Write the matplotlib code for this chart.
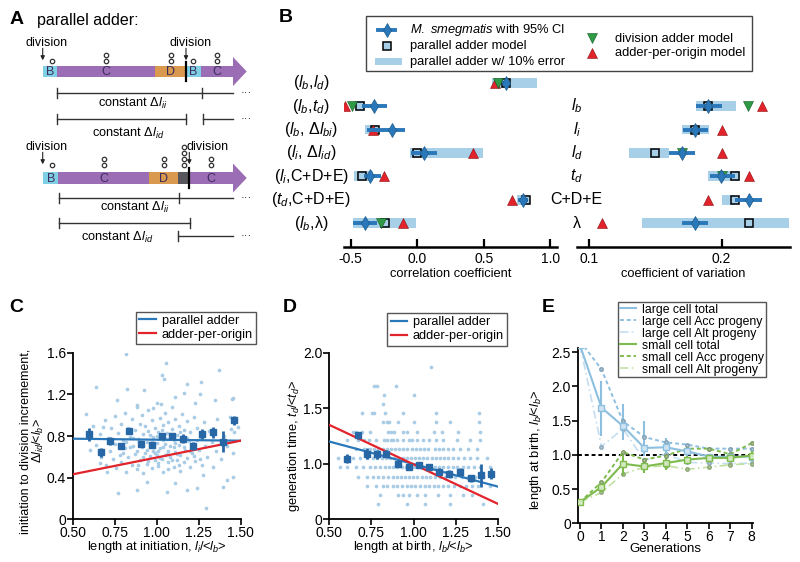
import numpy as np
import matplotlib
matplotlib.use('Agg')
import matplotlib.pyplot as plt
from matplotlib.patches import Rectangle, Polygon

plt.rcParams['font.family'] = 'Liberation Sans'
plt.rcParams['mathtext.fontset'] = 'custom'
plt.rcParams['mathtext.rm'] = 'Liberation Sans'
plt.rcParams['mathtext.it'] = 'Liberation Sans:italic'
plt.rcParams['mathtext.bf'] = 'Liberation Sans:bold'

# colours
BLUE = '#2a78b9'
LIGHT = '#a8cfe8'
DOT = '#a9cce6'
SQ = '#2767a6'
RED = '#e3232b'
GREEN = '#2f9a46'
LG_BLUE = '#8dc0e0'
LG_BLUE2 = '#c4def0'
SM_GREEN = '#7dbb4c'
SM_GREEN2 = '#c3e0a3'

# ---------------- panel A schematic ----------------
top_edges = [43.3, 56.7, 155, 186, 200.7, 233]
top_phases = ['B', 'C', 'D', 'B', 'C']
top_origins = [1, 2, 2, 1, 2]
bot_edges = [43.3, 58.3, 149, 178.3, 189.3, 233]
bot_phases = ['B', 'C', 'D', 'E', 'C']
bot_origins = [1, 2, 2, 4, 2]
phase_colors = {'B': '#7fd0e4', 'C': '#9b6db5', 'D': '#d9994f', 'E': '#56565c'}

# ---------------- panel B ----------------
rows_left = [r'($l_b$,$l_d$)', r'($l_b$,$t_d$)', r'($l_b$, Δ$l_{bi}$)', r'($l_i$, Δ$l_{id}$)',
             r'($l_i$,C+D+E)', r'($t_d$,C+D+E)', r'($l_b$,λ)']
rows_right = ['', r'$l_b$', r'$l_i$', r'$l_d$', r'$t_d$', 'C+D+E', 'λ']

cc_data = [0.665, -0.323, -0.193, 0.050, -0.356, 0.792, -0.393]
cc_lo = [0.640, -0.418, -0.380, -0.050, -0.398, 0.759, -0.486]
cc_hi = [0.700, -0.230, -0.092, 0.150, -0.273, 0.835, -0.303]
cc_par = [0.665, -0.431, -0.318, -0.005, -0.413, 0.815, -0.243]
cc_par_lo = [0.559, -0.468, -0.393, -0.055, -0.476, 0.752, -0.486]
cc_par_hi = [0.898, -0.393, -0.286, 0.496, -0.335, 0.842, -0.010]
cc_div = [0.604, -0.493, np.nan, np.nan, np.nan, np.nan, -0.275]
cc_apo = [0.587, -0.544, -0.335, 0.416, -0.250, 0.710, -0.110]

cv_data = [np.nan, 0.190, 0.180, 0.170, 0.1997, 0.2203, 0.180]
cv_lo = [np.nan, 0.181, 0.171, 0.160, 0.191, 0.210, 0.170]
cv_hi = [np.nan, 0.200, 0.190, 0.180, 0.210, 0.2306, 0.190]
cv_par = [np.nan, 0.190, 0.180, 0.150, 0.210, 0.210, 0.2203]
cv_par_lo = [np.nan, 0.1804, 0.1703, 0.130, 0.190, 0.200, 0.140]
cv_par_hi = [np.nan, 0.2105, 0.1904, 0.160, 0.2138, 0.210, 0.2507]
cv_div = [np.nan, 0.220, np.nan, 0.170, 0.200, np.nan, np.nan]
cv_apo = [np.nan, 0.2306, 0.200, 0.200, 0.2203, 0.190, 0.1096]

# ---------------- panel C ----------------
c_x = [0.62, 0.64, 0.66, 0.67, 0.69, 0.70, 0.71, 0.72, 0.73, 0.74, 0.75, 0.75, 0.76, 0.77, 0.78,
       0.79, 0.79, 0.80, 0.81, 0.81, 0.82, 0.83, 0.83, 0.84, 0.85, 0.85, 0.86, 0.87, 0.87, 0.88,
       0.88, 0.89, 0.90, 0.90, 0.91, 0.91, 0.92, 0.92, 0.93, 0.93, 0.94, 0.94, 0.95, 0.95, 0.96,
       0.96, 0.97, 0.97, 0.98, 0.98, 0.99, 0.99, 1.00, 1.00, 1.00, 1.01, 1.01, 1.02, 1.02, 1.03,
       1.03, 1.04, 1.04, 1.05, 1.05, 1.06, 1.06, 1.07, 1.07, 1.08, 1.08, 1.09, 1.09, 1.10, 1.10,
       1.11, 1.11, 1.12, 1.12, 1.13, 1.13, 1.14, 1.14, 1.15, 1.15, 1.16, 1.16, 1.17, 1.18, 1.18,
       1.19, 1.20, 1.20, 1.21, 1.22, 1.22, 1.23, 1.24, 1.25, 1.26, 1.27, 1.28, 1.29, 1.30, 1.31,
       1.33, 1.35, 1.36, 1.38, 1.40, 1.42, 1.44, 1.46,
       0.97, 0.98, 1.00, 1.01, 1.02, 1.03, 1.04, 1.05, 1.06, 1.07, 1.08, 1.09, 1.10, 1.11, 1.12,
       1.04, 0.99, 0.96, 0.94, 0.92, 0.90, 0.88, 0.86, 0.84, 0.82, 0.80, 0.78, 1.14, 1.16, 1.18,
       1.20, 1.22, 1.24, 1.26, 1.28, 0.95, 1.01, 1.07, 0.89, 1.13,
       0.815, 0.579, 0.639, 0.821, 1.054, 1.034, 1.044, 1.183, 1.262, 1.371, 1.258, 1.163, 0.925,
       1.109, 1.228, 1.345, 1.456, 0.980, 0.881, 0.762, 1.024, 0.772, 0.881, 1.060, 1.179, 1.242,
       1.292, 1.397, 1.417, 1.456, 0.944, 1.109, 0.702, 0.663, 0.603, 0.593, 0.683, 1.278, 1.337,
       1.456, 1.482, 1.437, 1.446]
c_y = [0.90, 0.71, 0.82, 0.60, 0.95, 0.52, 0.78, 0.66, 0.88, 0.58, 0.99, 0.72, 0.49, 0.83, 0.62,
       0.92, 0.55, 0.76, 1.02, 0.68, 0.45, 0.88, 0.60, 0.79, 0.96, 0.52, 0.70, 0.86, 0.63, 1.08,
       0.48, 0.77, 0.92, 0.57, 0.69, 1.00, 0.82, 0.44, 0.64, 0.90, 0.74, 0.53, 1.05, 0.85, 0.61,
       0.70, 0.95, 0.49, 0.79, 0.66, 0.88, 0.57, 1.12, 0.73, 0.62, 0.84, 0.51, 0.97, 0.68, 0.78,
       0.58, 0.91, 0.45, 0.72, 1.02, 0.63, 0.83, 0.55, 0.93, 0.70, 0.60, 0.87, 1.08, 0.76, 0.50,
       0.65, 0.96, 0.81, 0.57, 0.71, 0.90, 0.46, 0.62, 1.01, 0.77, 0.55, 0.86, 0.67, 0.94, 0.59,
       0.75, 0.50, 0.84, 0.64, 0.98, 0.72, 0.56, 0.88, 0.67, 0.79, 0.52, 0.93, 0.70, 0.60, 0.85,
       0.74, 0.66, 0.96, 0.58, 0.80, 0.70, 0.87, 0.84,
       0.74, 0.71, 0.80, 0.66, 0.59, 0.86, 0.69, 0.62, 0.77, 0.66, 0.82, 0.57, 0.69, 0.73, 0.63,
       0.76, 0.64, 0.81, 0.67, 0.60, 0.75, 0.66, 0.78, 0.69, 0.74, 0.64, 0.71, 0.84, 0.69, 0.78,
       0.66, 0.61, 0.76, 0.58, 0.82, 0.56, 0.54, 0.48, 0.52, 0.52,
       1.587, 1.011, 1.274, 1.254, 1.504, 1.386, 1.344, 1.299, 1.322, 1.434, 1.203, 1.210, 1.242,
       1.171, 1.120, 1.146, 1.162, 1.066, 1.098, 1.146, 1.104, 0.250, 0.282, 0.266, 0.282, 0.304,
       0.106, 0.314, 0.378, 0.410, 0.362, 0.346, 0.458, 0.538, 0.666, 0.794, 0.890, 0.426, 0.506,
       0.634, 0.890, 0.986, 1.152]
c_bin_x = [0.599, 0.667, 0.720, 0.786, 0.833, 0.907, 0.970, 1.030, 1.089, 1.155, 1.214, 1.272,
           1.337, 1.397, 1.462]
c_bin_y = [0.816, 0.643, 0.750, 0.700, 0.848, 0.720, 0.718, 0.798, 0.797, 0.775, 0.703, 0.820,
           0.835, 0.745, 0.950]
c_bin_err = [0.06, 0.04, 0.04, 0.02, 0.03, 0.02, 0.02, 0.03, 0.03, 0.04, 0.04, 0.05, 0.05, 0.10, 0.045]
c_line_x = [0.5, 1.5]
c_pa_y = [0.774, 0.755]
c_apo_y = [0.432, 0.755]

# ---------------- panel D ----------------
d_row_y = [1.87, 1.70, 1.62, 1.54, 1.46, 1.38, 1.29, 1.21, 1.13, 1.05, 0.97, 0.88, 0.80, 0.72, 0.64]
d_row_x = [
    [1.104],
    [0.765, 0.785, 0.896],
    [0.825, 1.003],
    [0.821],
    [0.692, 0.751, 0.765, 0.831, 0.940, 1.132, 1.389],
    [0.821, 0.841, 0.854, 0.910, 1.003, 1.134, 1.217, 1.389],
    [0.643, 0.658, 0.692, 0.742, 0.850, 0.866, 0.884, 0.936, 0.959, 1.019, 1.122, 1.167, 1.262, 1.395],
    [0.607, 0.672, 0.706, 0.738, 0.777, 0.825, 0.841, 0.864, 0.880, 0.900, 0.940, 0.975, 0.989,
     1.019, 1.058, 1.094, 1.134, 1.177, 1.256, 1.336, 1.395],
    [0.658, 0.706, 0.742, 0.765, 0.791, 0.817, 0.841, 0.864, 0.890, 0.916, 0.940, 0.959, 0.989,
     1.015, 1.039, 1.062, 1.088, 1.128, 1.153, 1.177, 1.207, 1.237, 1.276, 1.326, 1.375],
    [0.553, 0.599, 0.643, 0.682, 0.722, 0.761, 0.785, 0.811, 0.837, 0.860, 0.884, 0.910, 0.936,
     0.959, 0.983, 1.009, 1.035, 1.058, 1.082, 1.108, 1.134, 1.157, 1.181, 1.207, 1.237, 1.266,
     1.300, 1.336, 1.379, 1.435],
    [0.563, 0.607, 0.658, 0.702, 0.742, 0.771, 0.801, 0.831, 0.856, 0.880, 0.904, 0.930, 0.955,
     0.979, 1.003, 1.029, 1.054, 1.078, 1.104, 1.128, 1.153, 1.177, 1.207, 1.233, 1.260, 1.292,
     1.326, 1.359, 1.395, 1.454],
    [0.672, 0.722, 0.761, 0.791, 0.821, 0.850, 0.876, 0.900, 0.924, 0.950, 0.975, 0.999, 1.023,
     1.049, 1.074, 1.098, 1.128, 1.157, 1.187, 1.217, 1.247, 1.286, 1.326, 1.365, 1.415],
    [0.726, 0.777, 0.817, 0.845, 0.876, 0.904, 0.930, 0.959, 0.983, 1.009, 1.039, 1.068, 1.094,
     1.122, 1.148, 1.177, 1.207, 1.241, 1.276, 1.312, 1.346, 1.385, 1.454],
    [0.801, 0.910, 0.940, 0.975, 1.019, 1.068, 1.148, 1.217, 1.296, 1.346],
    [0.791, 0.959, 1.068, 1.217, 1.415],
]
d_bin_x = [0.607, 0.672, 0.726, 0.781, 0.837, 0.910, 0.975, 1.033, 1.090, 1.153, 1.211, 1.276,
           1.340, 1.399, 1.460]
d_bin_y = [1.045, 1.255, 1.090, 1.085, 1.090, 1.000, 0.970, 0.990, 0.975, 0.930, 0.910, 0.930,
           0.870, 0.895, 0.912]
d_bin_err = [0.04, 0.03, 0.05, 0.04, 0.03, 0.03, 0.02, 0.03, 0.02, 0.03, 0.03, 0.03, 0.03, 0.105, 0.05]
d_line_x = [0.5, 1.5]
d_pa_y = [1.200, 0.795]
d_apo_y = [1.350, 0.640]

# ---------------- panel E ----------------
gens = [0, 1, 2, 3, 4, 5, 6, 7, 8]
large_total = [2.60, 1.69, 1.42, 1.10, 1.11, 1.05, 0.975, 0.97, 0.975]
large_lo = [2.60, 1.28, 1.21, 0.99, 0.99, 0.97, 0.94, 0.94, 0.94]
large_hi = [2.60, 2.08, 1.74, 1.49, 1.25, 1.13, 1.01, 1.00, 1.01]
large_acc = [2.66, 2.25, 1.49, 1.26, 1.18, 1.15, 1.09, 1.09, 1.09]
large_alt = [2.60, 1.12, 1.38, 0.92, 1.01, 0.89, 0.88, 0.87, 0.88]
small_total = [0.31, 0.53, 0.87, 0.83, 0.88, 0.93, 0.955, 0.955, 0.99]
small_lo = [0.31, 0.45, 0.70, 0.73, 0.78, 0.88, 0.92, 0.92, 0.95]
small_hi = [0.31, 0.60, 1.00, 0.93, 0.97, 0.98, 0.99, 0.99, 1.05]
small_acc = [0.31, 0.60, 1.04, 0.93, 0.99, 1.09, 1.09, 1.01, 1.17]
small_alt = [0.31, 0.45, 0.72, 0.82, 0.84, 0.79, 0.82, 0.855, 0.87]

W, H = 800, 562
fig = plt.figure(figsize=(8, 5.62), dpi=100)


def box(l, t, r, b):
    return [l / W, 1 - b / H, (r - l) / W, (b - t) / H]


def style_xy(ax):
    for s in ['top', 'right']:
        ax.spines[s].set_visible(False)
    for s in ['left', 'bottom']:
        ax.spines[s].set_linewidth(1.3)
    ax.tick_params(direction='out', length=4, width=1.2, labelsize=10, pad=1)


# ---------------- B ----------------
def draw_b(ax, data, lo, hi, par, plo, phi, div, apo):
    rows = np.arange(len(data))
    data, lo, hi = np.array(data), np.array(lo), np.array(hi)
    par, plo, phi = np.array(par), np.array(plo), np.array(phi)
    ok = ~np.isnan(plo)
    ax.barh(rows[ok], (phi - plo)[ok], left=plo[ok], height=0.42, color=LIGHT, zorder=1)
    ax.plot(par, rows, 's', ms=5.8, mfc=LIGHT, mec='k', mew=1.1, zorder=3)
    ax.plot(apo, rows, '^', ms=7.5, color=RED, mec='#8a1010', mew=0.4, zorder=4)
    ax.plot(div, rows, 'v', ms=7.5, color=GREEN, mec='#145a22', mew=0.4, zorder=4)
    ok = ~np.isnan(data)
    ax.errorbar(data[ok], rows[ok], xerr=[(data - lo)[ok], (hi - data)[ok]], fmt='none',
                ecolor=BLUE, elinewidth=2.8, capsize=0, zorder=5)
    ax.plot(data, rows, 'd', ms=7, color=BLUE, mec='#1d5a8c', mew=0.5, zorder=6)
    ax.set_ylim(7.0, -0.54)
    ax.set_yticks([])
    for s in ['top', 'right', 'left']:
        ax.spines[s].set_visible(False)
    ax.spines['bottom'].set_linewidth(1.8)
    ax.tick_params(axis='x', direction='in', length=6, width=1.6, labelsize=10, pad=4)
    ax.patch.set_alpha(0)


ax_bl = fig.add_axes(box(344, 70, 556.7, 246.7))
draw_b(ax_bl, cc_data, cc_lo, cc_hi, cc_par, cc_par_lo, cc_par_hi, cc_div, cc_apo)
ax_bl.set_xlim(-0.551, 1.048)
ax_bl.set_xticks([-0.5, 0, 0.5, 1.0])
ax_bl.set_xticklabels(['-0.5', '0.0', '0.5', '1.0'])
ax_bl.set_xlabel('correlation coefficient', fontsize=9.3, labelpad=1)
for i, lab in enumerate(rows_left):
    ax_bl.text(-0.154, i, lab, transform=ax_bl.get_yaxis_transform(), ha='center', va='center',
               fontsize=11.5)

ax_br = fig.add_axes(box(577.3, 70, 790, 246.7))
draw_b(ax_br, cv_data, cv_lo, cv_hi, cv_par, cv_par_lo, cv_par_hi, cv_div, cv_apo)
ax_br.set_xlim(0.0912, 0.2515)
ax_br.set_xticks([0.1, 0.2])
ax_br.set_xticklabels(['0.1', '0.2'])
ax_br.set_xlabel('coefficient of variation', fontsize=9.3, labelpad=1)
for i, lab in enumerate(rows_right):
    ax_br.text(-0.003, i, lab, transform=ax_br.get_yaxis_transform(), ha='center', va='center',
               fontsize=11.5)

leg_kw = dict(loc='upper right', bbox_transform=fig.transFigure, fontsize=9.2, frameon=True,
              fancybox=False, edgecolor='#555555', framealpha=1, borderpad=0.25,
              labelspacing=0.15, handlelength=1.3, handletextpad=0.45, borderaxespad=0)

# ---------------- C ----------------
ax_c = fig.add_axes(box(72.7, 352.7, 240.7, 519.3))
style_xy(ax_c)
ax_c.scatter(c_x, c_y, s=7, color=DOT, linewidths=0, zorder=1)
ax_c.errorbar(c_bin_x, c_bin_y, yerr=c_bin_err, fmt='s', ms=5, color=SQ, elinewidth=2,
              capsize=0, zorder=4)
ax_c.plot(c_line_x, c_pa_y, color=BLUE, lw=1.6, label='parallel adder', zorder=3)
ax_c.plot(c_line_x, c_apo_y, color=RED, lw=1.6, label='adder-per-origin', zorder=3)
ax_c.set_xlim(0.5, 1.5)
ax_c.set_ylim(0, 1.6)
ax_c.set_xticks([0.5, 0.75, 1.0, 1.25, 1.5])
ax_c.set_xticklabels(['0.50', '0.75', '1.00', '1.25', '1.50'])
ax_c.set_yticks([0, 0.4, 0.8, 1.2, 1.6])
ax_c.set_yticklabels(['0', '0.4', '0.8', '1.2', '1.6'])
ax_c.set_xlabel(r'length at initiation, $l_i$/<$l_b$>', fontsize=9.3, labelpad=-1)
ax_c.set_ylabel('initiation to division incremement,\n' + r'Δ$l_{id}$/<$l_b$>', fontsize=9,
                linespacing=1.0)
ax_c.yaxis.set_label_coords(-0.158, 0.47)
ax_c.legend(bbox_to_anchor=(256 / W, 1 - 311.7 / H), **leg_kw)

# ---------------- D ----------------
ax_d = fig.add_axes(box(329.3, 352.7, 497.7, 519.3))
style_xy(ax_d)
for yv, xs in zip(d_row_y, d_row_x):
    ax_d.scatter(xs, [yv] * len(xs), s=7, color=DOT, linewidths=0, zorder=1)
ax_d.errorbar(d_bin_x, d_bin_y, yerr=d_bin_err, fmt='s', ms=5, color=SQ, elinewidth=2,
              capsize=0, zorder=4)
ax_d.plot(d_line_x, d_pa_y, color=BLUE, lw=1.6, label='parallel adder', zorder=3)
ax_d.plot(d_line_x, d_apo_y, color=RED, lw=1.6, label='adder-per-origin', zorder=3)
ax_d.set_xlim(0.5, 1.5)
ax_d.set_ylim(0.5, 2.0)
ax_d.set_xticks([0.5, 0.75, 1.0, 1.25, 1.5])
ax_d.set_xticklabels(['0.50', '0.75', '1.00', '1.25', '1.50'])
ax_d.set_yticks([0.5, 1.0, 1.5, 2.0])
ax_d.set_yticklabels(['0', '1.0', '1.5', '2.0'])
ax_d.set_xlabel(r'length at birth, $l_b$/<$l_b$>', fontsize=9.3, labelpad=-1)
ax_d.set_ylabel(r'generation time, $t_d$/<$t_d$>', fontsize=9.3)
ax_d.yaxis.set_label_coords(-0.165, 0.44)
ax_d.legend(bbox_to_anchor=(507.3 / W, 1 - 313.3 / H), **leg_kw)

# ---------------- E ----------------
ax_e = fig.add_axes(box(577.7, 348, 753, 523.3))
style_xy(ax_e)
ax_e.axhline(1.0, color='k', lw=1.4, ls=(0, (2, 1.5)), zorder=1)
ax_e.plot(gens, large_total, '-s', color=LG_BLUE, lw=1.5, ms=5, mfc='#cfe4f2', mec=LG_BLUE,
          label='large cell total', zorder=4)
ax_e.vlines(gens, large_lo, large_hi, color=LG_BLUE, lw=1.5, zorder=3)
ax_e.plot(gens, large_acc, 'o', ls=(0, (2, 1.5)), color=LG_BLUE, lw=1.4, ms=2.5,
          mfc='#b0c8d8', mec='#7f9fb5', label='large cell Acc progeny', zorder=3)
ax_e.plot(gens, large_alt, 'o', ls=(0, (5, 2, 1, 2)), color=LG_BLUE2, lw=1.2, ms=2.5,
          mfc='#b0c8d8', mec='#8fa8ba', label='large cell Alt progeny', zorder=2)
ax_e.plot(gens, small_total, '-s', color=SM_GREEN, lw=1.5, ms=5, mfc='#d3e8c0', mec=SM_GREEN,
          label='small cell total', zorder=4)
ax_e.vlines(gens, small_lo, small_hi, color=SM_GREEN, lw=1.5, zorder=3)
ax_e.plot(gens, small_acc, 'o', ls=(0, (2, 1.5)), color=SM_GREEN, lw=1.4, ms=2.5,
          mfc='#a9c48f', mec='#7f9a66', label='small cell Acc progeny', zorder=3)
ax_e.plot(gens, small_alt, 'o', ls=(0, (5, 2, 1, 2)), color=SM_GREEN2, lw=1.2, ms=2.5,
          mfc='#a9c48f', mec='#8fa878', label='small cell Alt progeny', zorder=2)
ax_e.set_xlim(-0.107, 8.06)
ax_e.set_ylim(0, 2.56)
ax_e.set_xticks(gens)
ax_e.set_yticks([0, 0.5, 1.0, 1.5, 2.0, 2.5])
ax_e.set_yticklabels(['0', '0.5', '1.0', '1.5', '2.0', '2.5'])
ax_e.set_xlabel('Generations', fontsize=9.5, labelpad=-1)
ax_e.set_ylabel(r'length at birth, $l_b$/<$l_b$>', fontsize=9.3)
ax_e.yaxis.set_label_coords(-0.19, 0.42)
ax_e.legend(loc='upper right', bbox_to_anchor=(766 / W, 1 - 301.7 / H),
            bbox_transform=fig.transFigure, fontsize=8.8, frameon=True, fancybox=False,
            edgecolor='#555555', framealpha=1, borderpad=0.15, labelspacing=0.0,
            handlelength=1.3, handletextpad=0.5, borderaxespad=0, markerscale=0)

# ---------------- overlay: panel A, B legend, panel letters ----------------
ov = fig.add_axes([0, 0, 1, 1], zorder=10)
ov.set_xlim(0, W)
ov.set_ylim(H, 0)
ov.axis('off')


def draw_bar(edges, phases, origins, y0, h, base, div_x):
    for i, ph in enumerate(phases):
        ov.add_patch(Rectangle((edges[i], y0), edges[i + 1] - edges[i], h, color=phase_colors[ph],
                               lw=0))
        cx = (edges[i] + edges[i + 1]) / 2
        if ph != 'E':
            ov.text(cx, y0 + h / 2 + 0.5, ph, ha='center', va='center', fontsize=9,
                    color='#3b2d5c')
        ox = cx + (1.5 if i == 0 else 0)
        ov.plot([ox] * origins[i], [base - 6 * k for k in range(origins[i])], 'o', ms=3.2,
                mfc='white', mec='#333333', mew=0.9)
    tip = edges[-1] + 13.7
    ym = y0 + h / 2
    ov.add_patch(Polygon([(edges[-1], ym - 14.5), (tip, ym), (edges[-1], ym + 14.5)],
                         closed=True, color=phase_colors['C'], lw=0))
    ov.plot([div_x, div_x], [y0 - 4, y0 + h + 3.5], color='k', lw=1.6)


def ruler(x0, x1, y, ticks):
    ov.plot([x0, x1], [y, y], color='#333333', lw=1)
    for t in ticks:
        ov.plot([t, t], [y - 5, y + 5], color='#333333', lw=1)


def division(tx, ty, ax_x, ha='center'):
    ov.text(tx, ty, 'division', ha=ha, va='center', fontsize=9)
    ov.annotate('', xy=(ax_x, ty + 17), xytext=(ax_x, ty + 5),
                arrowprops=dict(arrowstyle='-|>', lw=0.8, color='#222222', mutation_scale=6,
                                shrinkA=0, shrinkB=0))


ov.text(10, 20, 'A', fontsize=14, fontweight='bold', va='center')
ov.text(37, 21, 'parallel adder:', fontsize=11.5, va='center')

draw_bar(top_edges, top_phases, top_origins, 65.7, 11.6, 61, 186)
division(46.7, 43.3, 42.7)
division(190.7, 43.3, 186)
ruler(56.7, 233.3, 93.3, [56.7, 201.7])
ov.text(246.7, 93.3, '···', ha='center', va='center', fontsize=8)
ov.text(133, 103, r'constant Δ$l_{ii}$', ha='center', va='center', fontsize=9.2)
ruler(56.7, 186, 119.3, [56.7, 186])
ruler(202.7, 233.3, 119.3, [202.7])
ov.text(246.7, 119.3, '···', ha='center', va='center', fontsize=8)
ov.text(128, 133.5, r'constant Δ$l_{id}$', ha='center', va='center', fontsize=9.2)

draw_bar(bot_edges, bot_phases, bot_origins, 172, 12, 164.5, 189.3)
division(46.7, 147.3, 42.7)
division(186.7, 147.3, 189.3, ha='left')
ruler(59.3, 233.3, 197.7, [59.3, 179])
ov.text(246.7, 197.7, '···', ha='center', va='center', fontsize=8)
ov.text(135, 207, r'constant Δ$l_{ii}$', ha='center', va='center', fontsize=9.2)
ruler(59.3, 190, 222.7, [59.3, 190])
ruler(178.3, 233.3, 236, [178.3])
ov.text(246.7, 236, '···', ha='center', va='center', fontsize=8)
ov.text(116.7, 237, r'constant Δ$l_{id}$', ha='center', va='center', fontsize=9.2)

# B legend
ov.add_patch(Rectangle((366, 16), 385.7, 55, fill=False, ec='#444444', lw=1))
ov.plot([378, 395], [29.7, 29.7], color=BLUE, lw=2.8)
ov.plot(386.7, 29.7, 'd', ms=7, color=BLUE, mec='#1d5a8c', mew=0.5)
ov.plot(386.7, 45.7, 's', ms=5.8, mfc=LIGHT, mec='k', mew=1.1)
ov.add_patch(Rectangle((375, 57.5), 26.7, 7.3, color=LIGHT, lw=0))
ov.text(410, 30, r'$\mathit{M.\ smegmatis}$ with 95% CI', va='center', fontsize=9.3)
ov.text(410, 46, 'parallel adder model', va='center', fontsize=9.3)
ov.text(410, 61.5, 'parallel adder w/ 10% error', va='center', fontsize=9.3)
ov.plot(591.7, 38.3, 'v', ms=7.5, color=GREEN, mec='#145a22', mew=0.4)
ov.plot(591.7, 52.7, '^', ms=7.5, color=RED, mec='#8a1010', mew=0.4)
ov.text(615, 38.5, 'division adder model', va='center', fontsize=9.3)
ov.text(615, 53, 'adder-per-origin model', va='center', fontsize=9.3)

ov.text(279, 17, 'B', fontsize=14, fontweight='bold', va='center')
ov.text(9, 307, 'C', fontsize=14, fontweight='bold', va='center')
ov.text(283, 307, 'D', fontsize=14, fontweight='bold', va='center')
ov.text(542, 307, 'E', fontsize=14, fontweight='bold', va='center')

fig.savefig('out.png', dpi=100)
